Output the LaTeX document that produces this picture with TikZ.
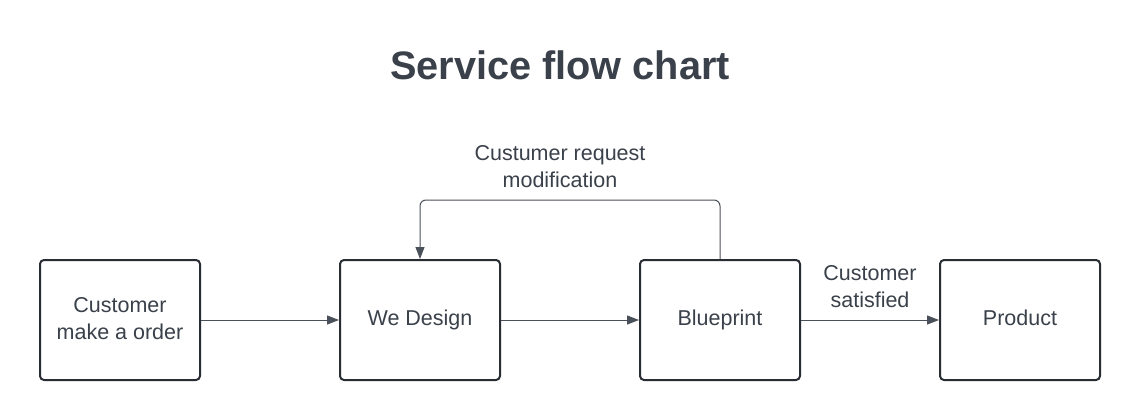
\documentclass[tikz,border=0pt]{standalone}
\usepackage{fontspec}
\setmainfont{Liberation Sans}
\usetikzlibrary{arrows.meta}
\definecolor{txt}{HTML}{3A414A}
\definecolor{edge}{HTML}{282C33}
\definecolor{conn}{HTML}{4A5059}
\tikzset{
  stepbox/.style={draw=edge, line width=2pt, rounded corners=4pt, minimum width=160pt, minimum height=120pt, inner sep=0pt, align=center, text=txt, font=\fontsize{21.5}{27}\selectfont},
  oneline/.style={text height=16pt, text depth=4.6pt},
  conn/.style={draw=conn, line width=1pt, -{Triangle[length=12pt,width=9pt]}, rounded corners=6pt},
  lbl/.style={text=txt, align=center, font=\fontsize{21.5}{27}\selectfont, inner sep=0pt}
}
\begin{document}
\begin{tikzpicture}[x=1pt,y=-1pt]
\useasboundingbox[fill=white] (0,0) rectangle (1140,420);
\node[text=txt, font=\bfseries\fontsize{39.7}{46}\selectfont] (title) at (560,65) {Service flow chart};
\node[stepbox, text depth=4pt] (order) at (120,320) {Customer\\make a order};
\node[stepbox, oneline] (design) at (420,320) {We Design};
\node[stepbox, oneline] (blue) at (720,320) {Blueprint};
\node[stepbox, oneline] (prod) at (1020,320) {Product};
\draw[conn] (order.east) -- (design.west);
\draw[conn] (design.east) -- (blue.west);
\draw[conn] (blue.east) -- (prod.west);
\draw[conn] (blue.north) -- (720,200) -- (420,200) -- (design.north);
\node[lbl] (modlbl) at (560,167) {Custumer request\\modification};
\node[lbl] (satlbl) at (870,287) {Customer\\satisfied};
\end{tikzpicture}
\end{document}
